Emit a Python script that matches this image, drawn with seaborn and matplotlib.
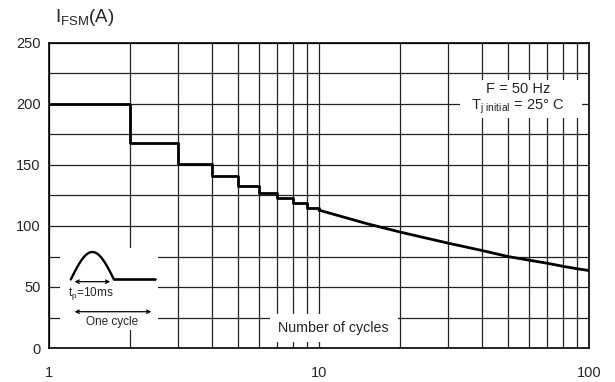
import numpy as np
import pandas as pd
import seaborn as sns
import matplotlib.pyplot as plt
from matplotlib.patches import Rectangle
from matplotlib.ticker import LogLocator, MultipleLocator, FixedLocator, NullFormatter

# surge current vs number of cycles
step_cycles = [1, 2, 3, 4, 5, 6, 7, 8, 9, 10]
step_current = [200, 168, 151, 141, 133, 127, 123, 119, 115, 113]
curve_cycles = [10, 15, 20, 30, 40, 50, 60, 70, 80, 90, 100]
curve_current = [113, 102, 95, 86, 80, 75, 72, 69.5, 67, 65, 63.5]

x_ticks = [1, 10, 100]
x_labels = ['1', '10', '100']
y_ticks = [0, 50, 100, 150, 200, 250]

sns.set_style('white')
plt.rcParams['font.family'] = ['Liberation Sans', 'DejaVu Sans']
plt.rcParams['axes.axisbelow'] = True

fig = plt.figure(figsize=(6.15, 3.82), dpi=100)
ax = fig.add_axes([49 / 615, 1 - 348 / 382, 540 / 615, 305 / 382])

steps = pd.DataFrame({'n': step_cycles, 'i': step_current})
curve = pd.DataFrame({'n': curve_cycles, 'i': curve_current})
sns.lineplot(data=steps, x='n', y='i', drawstyle='steps-post', color='black', lw=2, ax=ax, zorder=4)
sns.lineplot(data=curve, x='n', y='i', color='black', lw=2, ax=ax, zorder=4)

ax.set_xscale('log')
ax.set_xlim(1, 100)
ax.set_ylim(0, 250)
ax.xaxis.set_major_locator(FixedLocator(x_ticks))
ax.set_xticklabels(x_labels)
ax.xaxis.set_minor_locator(LogLocator(base=10, subs=np.arange(2, 10)))
ax.xaxis.set_minor_formatter(NullFormatter())
ax.yaxis.set_major_locator(FixedLocator(y_ticks))
ax.yaxis.set_minor_locator(MultipleLocator(25))
ax.grid(which='both', color='#222222', lw=0.9)
ax.tick_params(which='both', length=0, labelsize=10.5)
ax.tick_params(axis='x', pad=13)
ax.tick_params(axis='y', pad=6)
ax.set_xlabel('')
ax.set_ylabel('')
for s in ax.spines.values():
    s.set_color('black')
    s.set_linewidth(1.2)

# white boxes for the labels inside the grid
ax.add_patch(Rectangle((0.409, 0.020), 0.237, 0.091, transform=ax.transAxes,
                       facecolor='white', edgecolor='none', zorder=2))
ax.text(0.527, 0.066, 'Number of cycles', transform=ax.transAxes, ha='center', va='center',
        fontsize=10.3, zorder=3)

ax.add_patch(Rectangle((0.761, 0.754), 0.226, 0.125, transform=ax.transAxes,
                       facecolor='white', edgecolor='none', zorder=2))
ax.text(0.868, 0.848, 'F = 50 Hz', transform=ax.transAxes, ha='center', va='center',
        fontsize=10.5, zorder=3)
ax.text(0.867, 0.79, r'$\mathregular{T_{j\ initial}}$ = 25° C', transform=ax.transAxes,
        ha='center', va='center', fontsize=10.5, zorder=3)

# small pictogram of the surge pulse
ins = ax.inset_axes([0.020, 0.059, 0.182, 0.269])
ins.set_facecolor('white')
ins.set_xlim(0, 1)
ins.set_ylim(0, 1)
ins.set_xticks([])
ins.set_yticks([])
for s in ins.spines.values():
    s.set_visible(False)
t = np.linspace(0, np.pi, 60)
ins.plot(0.112 + (0.551 - 0.112) * t / np.pi, 0.616 + 0.335 * np.sin(t), color='black', lw=1.7)
ins.plot([0.551, 0.969], [0.616, 0.616], color='black', lw=1.9)
ins.annotate('', xy=(0.122, 0.589), xytext=(0.541, 0.589),
             arrowprops=dict(arrowstyle='<->', lw=0.9, color='black', mutation_scale=6))
ins.annotate('', xy=(0.122, 0.223), xytext=(0.959, 0.223),
             arrowprops=dict(arrowstyle='<->', lw=0.9, color='black', mutation_scale=6))
ins.text(0.32, 0.44, r'$\mathregular{t_p}$=10ms', ha='center', va='center', fontsize=8.5)
ins.text(0.53, 0.10, 'One cycle', ha='center', va='center', fontsize=8.5)

fig.text(55 / 615, 1 - 17 / 382, r'$\mathregular{I_{FSM}}$(A)', ha='left', va='center', fontsize=13.5)

fig.savefig('out.png', dpi=100)
